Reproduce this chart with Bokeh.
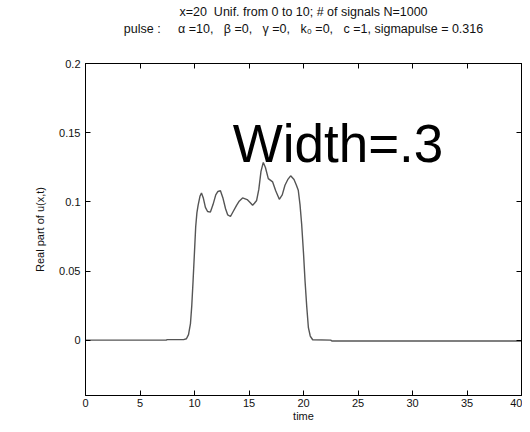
from bokeh.plotting import figure
from bokeh.models import LinearAxis, FixedTicker, Title, Label
from bokeh.embed import file_html
from bokeh.resources import INLINE

# ---- data ----
t = [0, 7.4, 7.5, 9.0, 9.26, 9.45, 9.63, 9.75, 9.87, 10.0, 10.11, 10.22, 10.33,
     10.5, 10.64, 10.8, 11.0, 11.2, 11.46, 11.7, 11.95, 12.15, 12.38, 12.6, 12.85,
     13.05, 13.3, 13.55, 13.86, 14.1, 14.41, 14.83, 15.1, 15.33, 15.5, 15.7, 15.9,
     16.1, 16.31, 16.5, 16.77, 17.17, 17.45, 17.78, 18.05, 18.3, 18.55, 18.82,
     19.13, 19.35, 19.52, 19.68, 19.83, 20.0, 20.14, 20.3, 20.45, 20.62, 20.84,
     22.5, 22.6, 40]
u = [0.0, 0.0, 0.0004, 0.0004, 0.001, 0.004, 0.012, 0.025, 0.043, 0.064, 0.082,
     0.092, 0.0975, 0.104, 0.1064, 0.103, 0.096, 0.093, 0.0926, 0.098, 0.105,
     0.1075, 0.108, 0.103, 0.095, 0.0905, 0.0894, 0.093, 0.0975, 0.1005, 0.1028,
     0.1016, 0.0995, 0.0975, 0.099, 0.101, 0.109, 0.122, 0.1285, 0.125, 0.1168,
     0.1144, 0.108, 0.1018, 0.105, 0.112, 0.116, 0.1188, 0.1161, 0.112, 0.1084,
     0.098, 0.084, 0.063, 0.043, 0.024, 0.009, 0.003, 0.0003, 0.0, -0.0006, -0.0006]

x_ticks = [0, 5, 10, 15, 20, 25, 30, 35, 40]
y_ticks = [0, 0.05, 0.1, 0.15, 0.2]
y_tick_labels = ["0", "0.05", "0.1", "0.15", "0.2"]

NB = "\u00a0"
title_line1 = "x=20" + NB * 2 + "Unif. from 0 to 10; # of signals N=1000"
title_line2 = ("pulse :" + NB * 5 + "\u03b1 =10," + NB * 3 + "\u03b2 =0," + NB * 3
               + "\u03b3 =0," + NB * 3 + "k\u2080 =0," + NB * 3
               + "c =1, sigmapulse = 0.316")
annotation = "Width=.3"

FONT = "Liberation Sans"

p = figure(width=522, height=424, x_range=(0, 40), y_range=(-0.04, 0.2),
           output_backend="svg", toolbar_location=None, title=None,
           min_border_left=85, min_border_right=1, min_border_bottom=0,
           min_border_top=63)

p.background_fill_color = "white"
p.border_fill_color = "white"
p.outline_line_color = "black"
p.outline_line_width = 1
p.xgrid.grid_line_color = None
p.ygrid.grid_line_color = None

p.line(t, u, line_color="#555555", line_width=1.4)

# bottom / left axes
xa = p.xaxis[0]
ya = p.yaxis[0]
xa.ticker = FixedTicker(ticks=x_ticks)
ya.ticker = FixedTicker(ticks=y_ticks)
ya.major_label_overrides = {v: s for v, s in zip(y_ticks, y_tick_labels)}
xa.axis_label = "time"
ya.axis_label = "Real part of u(x,t)"
for ax in (xa, ya):
    ax.major_tick_in = 5
    ax.major_tick_out = 0
    ax.minor_tick_line_color = None
    ax.axis_line_color = "black"
    ax.major_tick_line_color = "black"
    ax.major_label_text_font = FONT
    ax.major_label_text_font_size = "11px"
    ax.major_label_text_color = "#111111"
    ax.axis_label_text_font = FONT
    ax.axis_label_text_font_size = "11px"
    ax.axis_label_text_font_style = "normal"
    ax.axis_label_text_color = "#111111"
xa.major_label_standoff = 3
xa.axis_label_standoff = 0
ya.major_label_standoff = 5
ya.axis_label_standoff = 10

# mirrored ticks on top and right; the top axis carries the 2nd title line
top = LinearAxis(ticker=FixedTicker(ticks=x_ticks))
right = LinearAxis(ticker=FixedTicker(ticks=y_ticks))
top.major_label_overrides = {v: "" for v in x_ticks}
right.major_label_overrides = {v: "" for v in y_ticks}
for ax in (top, right):
    ax.major_tick_in = 5
    ax.major_tick_out = 0
    ax.minor_tick_line_color = None
    ax.major_label_standoff = 0
    ax.axis_line_color = "black"
    ax.major_tick_line_color = "black"
top.axis_label = title_line2
top.axis_label_text_font = FONT
top.axis_label_text_font_size = "12.5px"
top.axis_label_text_font_style = "normal"
top.axis_label_text_color = "#111111"
top.axis_label_text_line_height = 1.0
top.axis_label_standoff = 28
p.add_layout(top, "above")
p.add_layout(right, "right")

# first title line
t1 = Title(text=title_line1, align="center", text_font=FONT,
           text_font_size="12.5px", text_font_style="normal",
           text_color="#111111", standoff=0, text_line_height=1.0)
p.add_layout(t1, "above")

p.add_layout(Label(x=13.5, y=0.1425, text=annotation, text_font=FONT,
                   text_font_size="53px", text_color="black",
                   text_baseline="alphabetic"))

open("out.html", "w").write(file_html(p, INLINE))
